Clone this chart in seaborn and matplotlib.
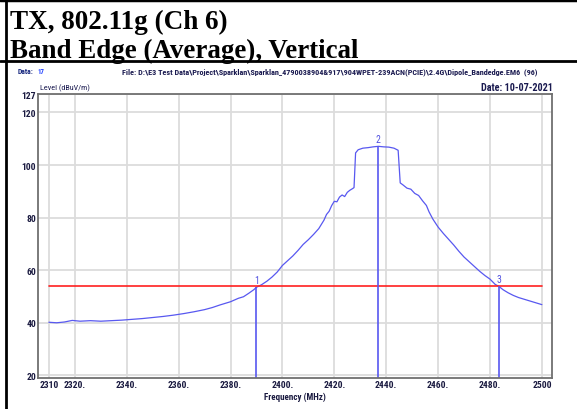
import matplotlib
matplotlib.use("Agg")
import matplotlib.pyplot as plt
from matplotlib import font_manager
import seaborn as sns
import pandas as pd

# trace (MHz, dBuV/m)
freq = [2310, 2313, 2316, 2319, 2322, 2326, 2330, 2334, 2338, 2342, 2346, 2350,
        2354, 2358, 2362, 2366, 2370, 2373, 2376, 2380, 2383, 2385, 2387, 2389,
        2390, 2392, 2394, 2396, 2398, 2400, 2402, 2404, 2406, 2408, 2410, 2412,
        2414, 2416, 2417, 2418, 2419, 2420, 2421, 2422, 2423, 2424, 2425, 2426,
        2427, 2427.6, 2428.2, 2429.2, 2431, 2433, 2435, 2437, 2439, 2441, 2443,
        2444.6, 2445.4, 2446.5, 2448, 2449.5, 2451, 2452.5, 2454, 2455.5, 2456.5,
        2458, 2460, 2462, 2464, 2466, 2468, 2470, 2472, 2474, 2476, 2478, 2480,
        2482, 2483.5, 2485, 2487, 2489, 2491, 2493, 2495, 2497, 2500]
level = [40.2, 40.0, 40.3, 40.9, 40.6, 40.8, 40.6, 40.8, 41.0, 41.3, 41.6, 42.0,
         42.4, 42.9, 43.5, 44.2, 45.0, 45.8, 46.8, 48.0, 49.3, 49.9, 51.2, 52.6,
         53.5, 54.5, 55.8, 57.4, 59.3, 61.8, 63.6, 65.4, 67.5, 69.8, 71.6, 73.6,
         75.8, 79.0, 81.2, 82.4, 84.6, 86.2, 86.0, 87.8, 88.6, 88.0, 89.6, 90.4,
         91.0, 91.4, 104.6, 105.8, 106.4, 106.6, 106.9, 107.1, 106.9, 106.8, 106.4,
         105.6, 93.2, 92.4, 91.2, 90.8, 89.2, 88.4, 86.4, 84.6, 82.2,
         79.4, 76.4, 74.0, 71.8, 69.6, 67.2, 65.0, 63.2, 61.4, 59.6, 58.0, 56.6,
         54.6, 53.8, 52.6, 51.4, 50.4, 49.6, 49.0, 48.4, 47.8, 46.9]

limit_freq = [2310, 2500]
limit_level = [54, 54]

marker_freq = [2390, 2436.8, 2483.5]
marker_level = [53.5, 107.1, 53.8]
marker_names = ["1", "2", "3"]

xticks = [2310, 2320, 2340, 2360, 2380, 2400, 2420, 2440, 2460, 2480, 2500]
xlabels = ["2310", "2320.", "2340.", "2360.", "2380.", "2400.", "2420.",
           "2440.", "2460.", "2480.", "2500"]
yticks = [20, 40, 60, 80, 100, 120, 127]

sns.set_style("white")

# pick a condensed sans if one is installed
installed = {f.name for f in font_manager.fontManager.ttflist}
cands = ["Liberation Sans Narrow", "DejaVu Sans Condensed", "Roboto Condensed",
         "Open Sans Condensed", "Roboto"]
narrow_name = next((c for c in cands if c in installed), "DejaVu Sans")
narrow = [narrow_name, "DejaVu Sans"]
serif = ["Liberation Serif", "DejaVu Serif"]
txt_col = "#1a1a40"

fig = plt.figure(figsize=(5.77, 4.10), dpi=100)
renderer = fig.canvas.get_renderer()


def fit_text(x0, y0, s, width_px, size, **kw):
    # scale the font so the text spans width_px
    t = fig.text(x0, y0, s, fontsize=size, **kw)
    w = t.get_window_extent(renderer).width
    t.set_fontsize(size * width_px / w)
    return t


# page lines
fig.add_artist(plt.Line2D([0, 1], [0.997, 0.997], color="black", lw=2.5))
fig.add_artist(plt.Line2D([0, 1], [1 - 62 / 410, 1 - 62 / 410], color="black", lw=2))
fig.add_artist(plt.Line2D([6 / 577, 6 / 577], [0, 1], color="black", lw=2))

fit_text(10 / 577, 1 - 29 / 410, "TX, 802.11g (Ch 6)", 218, 19.5,
         family=serif, weight="bold", color="black")
fit_text(10 / 577, 1 - 58 / 410, "Band Edge (Average), Vertical", 349, 19.5,
         family=serif, weight="bold", color="black")

fit_text(18 / 577, 1 - 74 / 410, "Data:", 16, 5.5, family=narrow,
         weight="bold", color="#1a2a80")
fit_text(37 / 577, 1 - 74 / 410, "17", 7, 5.5, family=narrow, weight="bold",
         color="#2040ff")
fit_text(122 / 577, 1 - 74 / 410,
         "File: D:\\E3 Test Data\\Project\\Sparklan\\Sparklan_4790038904&917\\"
         "904WPET-239ACN(PCIE)\\2.4G\\Dipole_Bandedge.EM6  (96)", 415, 5.5,
         family=narrow, weight="bold", color="#1a1a50")
fit_text(481 / 577, 1 - 91 / 410, "Date: 10-07-2021", 72, 5.5, family=narrow,
         weight="bold", color="#1a1a50")
fit_text(40 / 577, 1 - 90 / 410, "Level (dBuV/m)", 50, 5.5, family=narrow,
         color="#1a1a50")

ax = fig.add_axes([38 / 577, 1 - 379 / 410, 514 / 577, 284 / 410])

df = pd.DataFrame({"freq": freq, "level": level})
sns.lineplot(data=df, x="freq", y="level", ax=ax, color="#5858f0", lw=0.9)
sns.lineplot(x=limit_freq, y=limit_level, ax=ax, color="#ff2020", lw=1.2)

ax.vlines(marker_freq, 19, marker_level, color="#5858f0", lw=1.2)
for f, l, n in zip(marker_freq, marker_level, marker_names):
    ax.text(f, l + 1.0, n, color="#5050e0", fontsize=7, ha="center",
            va="bottom", family=narrow)

ax.set_xlim(2305.8, 2503.9)
ax.set_ylim(19, 127)
ax.set_xticks(xticks)
ax.set_xticklabels(xlabels)
ax.set_yticks(yticks)
ax.grid(True, color="#dcdcdc", lw=1.3)
ax.tick_params(length=0, pad=1.5, labelsize=6.8, labelcolor=txt_col)
for lab in ax.get_xticklabels() + ax.get_yticklabels():
    lab.set_family(narrow)
    lab.set_weight("bold")
for s in ax.spines.values():
    s.set_color("#707070")
    s.set_linewidth(1.3)

ax.set_xlabel("Frequency (MHz)", family=narrow, weight="bold", fontsize=6.5,
              color=txt_col, labelpad=2)
ax.set_ylabel("")

fig.savefig("out.png", dpi=100)
